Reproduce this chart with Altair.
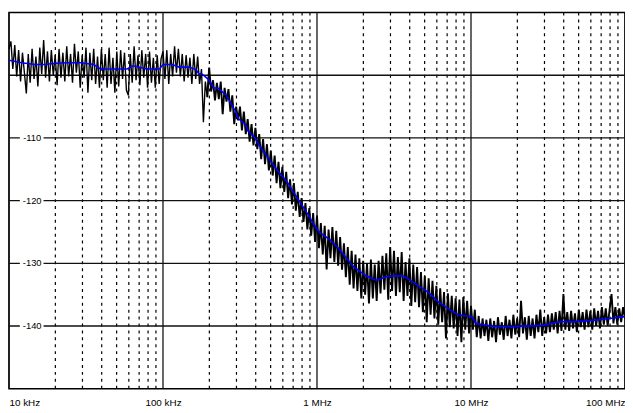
import altair as alt
import pandas as pd

# sample-frequency mantissas within one decade (x 10 kHz, 100 kHz, 1 MHz, 10 MHz)
mant = [1.000, 1.029, 1.059, 1.090, 1.122, 1.155, 1.189, 1.223, 1.259, 1.296,
        1.334, 1.372, 1.413, 1.454, 1.496, 1.540, 1.585, 1.631, 1.679, 1.728,
        1.778, 1.830, 1.884, 1.939, 1.995, 2.054, 2.113, 2.175, 2.239, 2.304,
        2.371, 2.441, 2.512, 2.585, 2.661, 2.738, 2.818, 2.901, 2.985, 3.073,
        3.162, 3.255, 3.350, 3.447, 3.548, 3.652, 3.758, 3.868, 3.981, 4.097,
        4.217, 4.340, 4.467, 4.597, 4.732, 4.870, 5.012, 5.158, 5.309, 5.464,
        5.623, 5.788, 5.957, 6.131, 6.310, 6.494, 6.683, 6.879, 7.079, 7.286,
        7.499, 7.718, 7.943, 8.175, 8.414, 8.660, 8.913, 9.173, 9.441, 9.716]
decades = [1e4, 1e5, 1e6, 1e7]
last_f = 1e8

noisy_db = [
    # 10 kHz - 100 kHz
    -95.8, -94.6, -99.0, -95.2, -100.2, -96.0, -101.0, -96.4, -99.6, -102.9,
    -96.6, -101.2, -95.8, -100.6, -97.0, -101.8, -95.6, -99.8, -94.4, -100.4,
    -96.2, -101.0, -96.0, -100.0, -96.8, -101.6, -95.8, -100.4, -96.4, -101.0,
    -95.4, -100.2, -96.6, -101.2, -95.0, -99.6, -96.2, -102.0, -96.8, -100.4,
    -95.6, -102.8, -96.4, -100.8, -95.8, -101.4, -97.0, -102.0, -95.8, -100.8,
    -96.6, -102.0, -95.6, -101.4, -97.2, -102.8, -96.2, -101.8, -96.0, -100.6,
    -96.4, -102.4, -103.2, -96.6, -101.2, -95.4, -100.8, -96.8, -101.6, -96.0,
    -100.4, -96.6, -102.0, -96.2, -101.2, -97.2, -102.0, -96.8, -101.4, -97.4,
    # 100 kHz - 1 MHz
    -96.2, -100.6, -96.0, -101.4, -96.6, -100.2, -95.4, -99.6, -95.8, -100.2,
    -96.6, -101.0, -96.8, -100.4, -97.2, -101.4, -96.6, -100.6, -97.0, -101.4,
    -99.0, -107.5, -101.0, -103.5, -98.8, -102.6, -100.8, -104.0, -101.2, -103.8,
    -101.0, -106.2, -102.0, -104.2, -102.2, -105.8, -103.2, -107.8, -105.0, -107.2,
    -105.0, -108.8, -105.8, -109.4, -107.0, -110.6, -107.8, -111.2, -108.4, -111.8,
    -109.4, -113.4, -110.2, -114.2, -111.0, -115.2, -112.0, -116.0, -112.8, -117.2,
    -113.8, -118.0, -114.6, -118.6, -115.4, -119.6, -116.6, -120.6, -117.2, -121.6,
    -118.6, -122.6, -119.6, -123.4, -120.4, -124.6, -121.2, -125.6, -122.0, -126.6,
    # 1 MHz - 10 MHz
    -122.4, -127.6, -123.6, -128.6, -124.0, -131.0, -124.6, -129.2, -124.2, -129.8,
    -124.8, -130.4, -125.8, -131.0, -126.8, -132.2, -127.4, -133.4, -128.0, -134.0,
    -128.6, -134.4, -129.2, -135.6, -129.6, -135.0, -130.0, -136.4, -129.4, -135.6,
    -130.2, -136.0, -129.6, -134.8, -128.8, -134.2, -128.4, -135.8, -127.4, -134.4,
    -128.0, -135.2, -129.0, -134.6, -128.2, -136.0, -129.8, -135.2, -129.2, -136.8,
    -130.2, -136.2, -130.6, -137.0, -131.4, -137.8, -132.0, -139.4, -132.4, -138.2,
    -132.8, -138.8, -133.6, -139.8, -134.0, -139.4, -134.6, -142.0, -134.8, -140.2,
    -135.2, -140.4, -135.6, -141.6, -135.8, -142.6, -135.4, -140.6, -136.0, -141.2,
    # 10 MHz - 100 MHz
    -136.8, -140.6, -137.4, -141.8, -138.4, -142.0, -138.8, -141.6, -139.0, -142.4,
    -138.8, -141.8, -139.2, -142.6, -138.6, -141.4, -139.4, -142.2, -138.4, -141.6,
    -139.0, -142.0, -138.2, -141.4, -138.8, -141.8, -136.0, -141.2, -138.6, -142.2,
    -138.4, -141.6, -138.8, -142.0, -138.2, -141.0, -137.4, -141.6, -138.6, -141.2,
    -138.2, -141.0, -138.0, -140.6, -137.8, -141.2, -137.6, -140.8, -134.9, -140.6,
    -137.8, -140.8, -137.6, -140.4, -138.0, -141.0, -137.4, -140.2, -137.8, -140.6,
    -137.4, -140.2, -137.6, -140.6, -137.2, -140.0, -137.6, -140.4, -137.0, -139.8,
    -137.2, -140.0, -137.4, -134.9, -139.6, -137.0, -139.8, -137.2, -139.4, -137.0, -138.8,
]

blue_f = [10e3, 12.1e3, 14.7e3, 17e3, 20e3, 24.2e3, 29.3e3, 35.5e3, 39.3e3, 58.5e3,
          63.8e3, 78.5e3, 95e3, 100e3, 115e3, 127e3, 147e3, 164e3, 171e3, 179e3,
          198e3, 213e3, 230e3, 255e3, 266e3, 295e3, 308e3, 342e3, 357e3, 396e3,
          414e3, 479e3, 555e3, 643e3, 745e3, 863e3, 1.0e6, 1.045e6, 1.21e6, 1.40e6,
          1.72e6, 2.08e6, 2.42e6, 2.80e6, 3.10e6, 3.59e6, 3.93e6, 4.55e6, 5.27e6, 6.11e6,
          7.08e6, 8.20e6, 10.1e6, 10.8e6, 14.1e6, 18.2e6, 29.5e6, 37.9e6, 48e6, 61.5e6,
          79e6, 100e6]
blue_db = [-97.6, -98.0, -98.3, -98.3, -98.1, -98.0, -98.0, -98.3, -99.0, -99.0,
           -98.5, -99.0, -99.0, -98.3, -98.3, -98.7, -98.7, -99.1, -99.8, -99.8,
           -100.7, -102.0, -102.1, -103.1, -103.8, -105.7, -106.9, -107.8, -108.9, -110.0,
           -110.9, -113.1, -115.2, -117.1, -119.6, -122.0, -124.6, -125.1, -126.2, -127.8,
           -130.5, -132.0, -132.7, -132.2, -132.0, -132.0, -132.5, -133.6, -134.6, -136.1,
           -137.2, -138.2, -138.5, -139.6, -140.1, -140.1, -139.9, -139.3, -139.3, -139.1,
           -138.8, -138.5]

major_f = [1e4, 1e5, 1e6, 1e7, 1e8]
minor_mult = [2, 3, 4, 5, 6, 7, 8, 9]
x_labels = ["10 kHz", "100 kHz", "1 MHz", "10 MHz", "100 MHz"]
hgrid_db = [-140, -130, -120, -110, -100]
ylab_db = [-140, -130, -120, -110]

freqs = [m * d for d in decades for m in mant] + [last_f]
noisy = pd.DataFrame({"f": freqs, "db": noisy_db})
blue = pd.DataFrame({"f": blue_f, "db": blue_db})
minor = pd.DataFrame({"f": [m * d for d in decades for m in minor_mult]})
major = pd.DataFrame({"f": major_f})
hgrid = pd.DataFrame({"v": hgrid_db})
ylab = pd.DataFrame({"v": ylab_db, "t": [str(v) for v in ylab_db]})

xs = alt.Scale(type="log", domain=[1e4, 1e8], nice=False)
ys = alt.Scale(domain=[-150, -90], nice=False, zero=False)

label_expr = " : ".join(
    f"datum.value == {int(f)} ? '{t}'" for f, t in zip(major_f, x_labels)
) + " : ''"

FONT = "Liberation Sans"

x_axis = alt.Axis(
    values=major_f, labelExpr=label_expr, grid=False, ticks=False, domain=False,
    labelFont=FONT, labelFontSize=10, labelColor="black", labelPadding=9,
    labelFlush=True, title=None)


def X(field):
    return alt.X(field, type="quantitative", scale=xs, axis=x_axis)


def Y(field):
    return alt.Y(field, type="quantitative", scale=ys, axis=None)


minor_rules = alt.Chart(minor).mark_rule(color="black", strokeWidth=1.2, strokeDash=[3, 4]).encode(
    x=X("f"))
major_rules = alt.Chart(major).mark_rule(color="#111", strokeWidth=1.3).encode(x=X("f"))
h_rules = alt.Chart(hgrid).mark_rule(color="#111", strokeWidth=1.3).encode(y=Y("v"))

noisy_low = alt.Chart(noisy).transform_filter("datum.f <= 200000").mark_line(
    color="black", strokeWidth=1.4).encode(x=X("f"), y=Y("db"))
noisy_high = alt.Chart(noisy).transform_filter("datum.f >= 190000").mark_line(
    color="black", strokeWidth=1.9).encode(x=X("f"), y=Y("db"))

blue_line = alt.Chart(blue).mark_line(color="#0000ff", strokeWidth=1.6).encode(
    x=X("f"), y=Y("db"))

lab_bg = alt.Chart(ylab).transform_calculate(
    lo="datum.v - 0.75", hi="datum.v + 0.75"
).mark_rect(color="white").encode(
    x=alt.value(11), x2=alt.value(35),
    y=Y("lo"), y2="hi:Q")

lab_txt = alt.Chart(ylab).mark_text(
    font=FONT, fontSize=9.5, color="black", align="center", baseline="middle"
).encode(x=alt.value(23.5), y=Y("v"), text="t:N")

chart = alt.layer(
    minor_rules, major_rules, h_rules, noisy_low, noisy_high, blue_line, lab_bg, lab_txt
).properties(
    width=624, height=381,
    autosize=alt.AutoSizeParams(type="none"),
    padding={"left": 1, "top": 2, "right": 0, "bottom": 20},
    background="white",
).configure_view(stroke="black", strokeWidth=1.5)

chart.save("out.html", embed_options={"renderer": "svg", "actions": False})
